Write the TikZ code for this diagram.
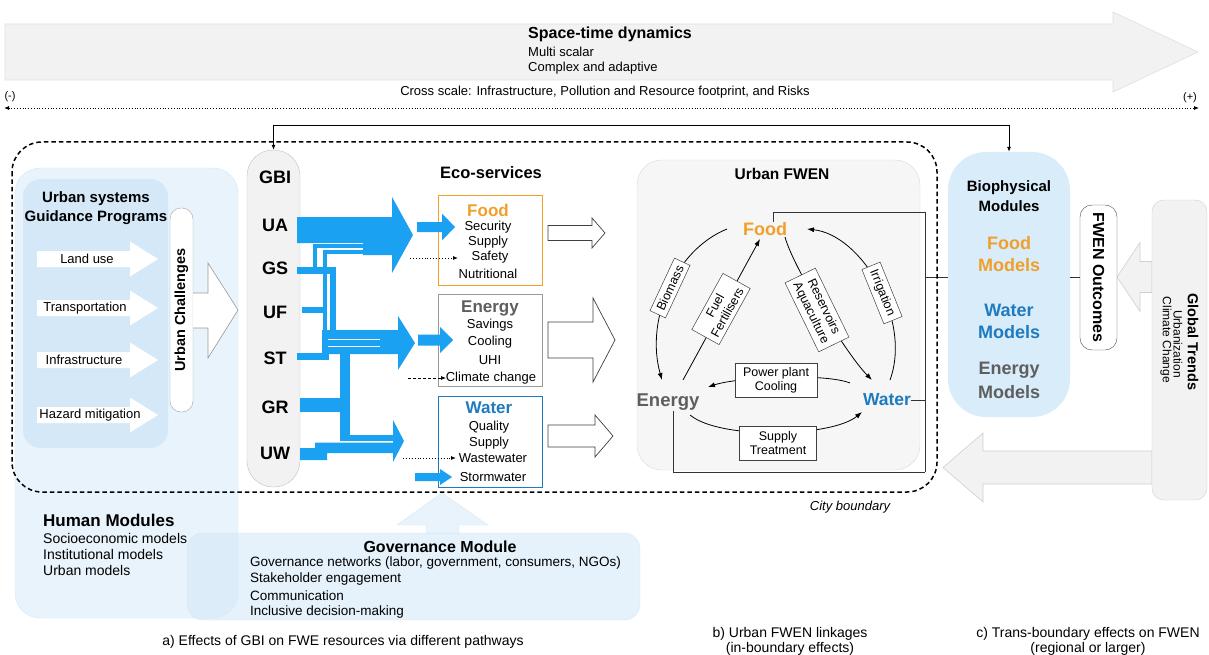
\documentclass[tikz,border=0pt]{standalone}
\usepackage{fontspec}
\setmainfont{Liberation Sans}
\usetikzlibrary{arrows.meta,calc}
\definecolor{blu}{HTML}{1BA1F2}
\definecolor{foodc}{HTML}{F0A02A}
\definecolor{watc}{HTML}{1F7BBF}
\definecolor{enc}{HTML}{5E5E5E}
\definecolor{lb1}{HTML}{E8F3FC}
\definecolor{lb2}{HTML}{D4E8F8}
\definecolor{lb3}{HTML}{D9ECFA}
\definecolor{gf}{HTML}{F2F2F2}
\definecolor{gd}{HTML}{D0D0D0}
\newcommand\fs[2]{\fontsize{#1}{#2}\selectfont}
% block arrow: x0 (tail), x1 (head base), x2 (tip), yc, body half height, head half height
\newcommand\barrow[6]{(#1,#4-#5) -- (#2,#4-#5) -- (#2,#4-#6) -- (#3,#4) -- (#2,#4+#6) -- (#2,#4+#5) -- (#1,#4+#5) -- cycle}
\begin{document}
\begin{tikzpicture}[x=1pt,y=-1pt,
  every node/.style={inner sep=0pt},
  t13/.style={font=\fs{13}{15}},
  t14/.style={font=\fs{14}{16}},
  flow/.style={-{Latex[length=7pt,width=5pt]}, line width=0.8pt},
  lbox/.style={draw=black!75, fill=white, line width=0.5pt, inner xsep=5pt, inner ysep=4pt, font=\fs{12.5}{14}, align=center},
  hollow/.style={draw=black!75, fill=white, line width=0.7pt},
  grayarr/.style={draw=gd, fill=gf, line width=0.6pt},
  wline/.style={line width=0.6pt, black!80},
  smalltip/.style={-{Latex[length=5pt,width=4pt]}},
  ]
\useasboundingbox (0,0) rectangle (1209,655);

% ---------- top ----------
\draw[grayarr, draw=gray!25] \barrow{5}{1113}{1198}{52}{28}{40};
\node[anchor=west, font=\bfseries\fs{16}{18}] (st1) at (528,34) {Space-time dynamics};
\node[anchor=west, t13] (st2) at (528,52) {Multi scalar};
\node[anchor=west, t13] (st3) at (528,68) {Complex and adaptive};
\node[t13] (cs) at (605,92) {Cross scale: Infrastructure, Pollution and Resource footprint, and Risks};
\node[font=\fs{11}{12}] (mn) at (10,97) {(-)};
\node[font=\fs{11}{12}] (pl) at (1190,98) {(+)};
\coordinate (dl) at (4,108);
\coordinate (dr) at (1199,108);
\draw[dotted, line width=0.8pt, {Latex[length=5pt,width=4pt]}-{Latex[length=5pt,width=4pt]}] (dl) -- (dr);

% ---------- human & governance modules ----------
\draw[fill=lb1, draw=lb2, rounded corners=25] (15,168) rectangle (238,618);
\draw[fill=lb1, draw=lb2] (426,534) -- (426,525) -- (397,525) -- (442,493) -- (488,525) -- (459,525) -- (459,534);
\draw[fill=lb2, fill opacity=0.6, draw=lb2, rounded corners=16] (187,533) rectangle (640,620);
\node[anchor=west, font=\bfseries\fs{17}{19}] (hm) at (43,520) {Human Modules};
\node[anchor=west, t14] (hm1) at (43,538) {Socioeconomic models};
\node[anchor=west, t14] (hm2) at (43,554) {Institutional models};
\node[anchor=west, t14] (hm3) at (43,570) {Urban models};
\node[font=\bfseries\fs{16}{18}] (gm) at (440,547) {Governance Module};
\node[anchor=west, font=\fs{13.5}{15}] (gm1) at (250,563) {Governance networks (labor, government, consumers, NGOs)};
\node[anchor=west, font=\fs{13.5}{15}] (gm2) at (250,579) {Stakeholder engagement};
\node[anchor=west, font=\fs{13.5}{15}] (gm3) at (250,596) {Communication};
\node[anchor=west, font=\fs{13.5}{15}] (gm4) at (250,612) {Inclusive decision-making};

% ---------- urban systems guidance ----------
\draw[fill=lb2, draw=none, rounded corners=18] (23,179) rectangle (168,448);
\node[font=\bfseries\fs{15}{19}, align=center] (usg) at (96,208) {Urban systems\\Guidance Programs};
\foreach \yy in {259,308,360,415} {\fill[white] \barrow{37}{130}{158}{\yy}{8}{17.5};}
\node[t13] (p1) at (87,259) {Land use};
\node[t13] (p2) at (85,308) {Transportation};
\node[t13] (p3) at (84,360) {Infrastructure};
\node[t13] (p4) at (90,415) {Hazard mitigation};
\node[draw=gray!70, fill=white, rounded corners=11, minimum width=23, minimum height=204] (uc) at (181.5,310) {};
\node[rotate=90, font=\bfseries\fs{14.5}{16}] (uct) at (uc) {Urban Challenges};
\draw[draw=gray!80, fill=white, line width=0.6pt] (193,293) -- (208,293) -- (208,263) -- (238,310) -- (208,358) -- (208,328) -- (193,328);

% ---------- GBI ----------
\node[draw=gray!50, fill=gf, rounded corners=26, minimum width=53, minimum height=337] (gbi) at (273.5,318.5) {};
\foreach \lab/\yy in {GBI/177,UA/225,GS/268,UF/312,ST/358,GR/407,UW/453}
  \node[font=\bfseries\fs{18}{20}] (g\lab) at (275,\yy) {\lab};

% ---------- blue flows ----------
\fill[blu] (297,217) -- (392,217) -- (392,197) -- (413,235) -- (392,273) -- (392,255) -- (363,255) -- (363,243) -- (297,243) -- cycle;
\draw[blu, line width=4pt] (315,272) -- (315,246) -- (363,246);
\draw[blu, line width=4pt] (325,335) -- (325,252) -- (363,252);
\fill[blu] (297,267) rectangle (336,274);
\fill[blu] (330,267) rectangle (336,332);
\fill[blu] (302,307) rectangle (327,313);
\fill[blu] (297,353) rectangle (329,360);
\fill[blu] (322,335) rectangle (329,360);
\fill[blu] (322,330) -- (398,330) -- (398,316) -- (415,343) -- (398,370) -- (398,354) -- (322,354) -- cycle;
\draw[white, line width=0.8pt] (328,339) -- (380,339);
\draw[white, line width=0.8pt] (328,346) -- (380,346);
\fill[blu] (300,398) rectangle (350,412);
\fill[blu] (340,352) rectangle (350,441);
\fill[blu] (340,435) rectangle (393,441);
\fill[blu] (300,460) -- (327,460) -- (327,453) -- (393,453) -- (393,442.5) -- (315,442.5) -- (315,448) -- (300,448) -- cycle;
\fill[blu] (393,420) -- (404,441) -- (393,462) -- cycle;

% ---------- eco-services ----------
\node[font=\bfseries\fs{16.5}{18}] (eco) at (491,173) {Eco-services};
\node[draw=foodc, line width=1pt, fill=white, minimum width=104, minimum height=90] (efood) at (490,240) {};
\node[draw=gray!80, line width=1pt, fill=white, minimum width=104, minimum height=92] (eener) at (490,340) {};
\node[draw=watc, line width=1pt, fill=white, minimum width=104, minimum height=91] (ewat) at (490,441.5) {};
\node[font=\bfseries\fs{17}{19}, text=foodc] (ef0) at (488,210) {Food};
\node[t13] (ef1) at (488,227) {Security};
\node[t13] (ef2) at (488,242) {Supply};
\node[t13] (ef3) at (490,257) {Safety};
\node[t13] (ef4) at (488,274) {Nutritional};
\node[font=\bfseries\fs{17}{19}, text=enc] (ee0) at (490,308) {Energy};
\node[t13] (ee1) at (490,325) {Savings};
\node[t13] (ee2) at (490,342) {Cooling};
\node[t13] (ee3) at (490,360) {UHI};
\node[t13] (ee4) at (491,378) {Climate change};
\node[font=\bfseries\fs{17}{19}, text=watc] (ew0) at (489,408) {Water};
\node[t13] (ew1) at (489,427) {Quality};
\node[t13] (ew2) at (489,443) {Supply};
\node[t13] (ew3) at (493,458) {Wastewater};
\node[t13] (ew4) at (493,477) {Stormwater};
\fill[blu] \barrow{417}{442}{455}{227}{5}{13.5};
\fill[blu] \barrow{418}{440}{453}{340}{5.5}{13};
\fill[blu] \barrow{415}{440}{452}{477}{4}{8};
\coordinate (d1a) at (410,258); \coordinate (d1b) at (458,258);
\coordinate (d2a) at (408,378); \coordinate (d2b) at (446,378);
\coordinate (d3a) at (403,458); \coordinate (d3b) at (456,458);
\draw[dotted, line width=0.9pt, smalltip] (d1a) -- (d1b);
\draw[dashed, dash pattern=on 3pt off 2pt, line width=0.7pt, smalltip] (d2a) -- (d2b);
\draw[dotted, line width=0.9pt, smalltip] (d3a) -- (d3b);
\draw[hollow] \barrow{548}{592}{605}{233}{7.5}{15};
\draw[hollow] \barrow{548}{593}{615}{340}{18}{42};
\draw[hollow] \barrow{548}{595}{613}{436}{11}{21};

% ---------- Urban FWEN ----------
\node[draw=gray!30, fill=gray!7, rounded corners=25, minimum width=283, minimum height=310] (fwen) at (778.5,315) {};
\node[font=\bfseries\fs{15.5}{18}] (fwt) at (782,174) {Urban FWEN};
\node[font=\bfseries\fs{18}{20}, text=foodc] (ffood) at (765,229) {Food};
\node[font=\bfseries\fs{18.5}{20}, text=enc] (fen) at (668,402) {Energy};
\node[font=\bfseries\fs{17.5}{20}, text=watc] (fwat) at (887,400) {Water};

\draw[flow] ([xshift=-38pt]ffood.center) .. controls +(-52,21) and +(-17,-60) .. ([xshift=-6pt,yshift=22pt]fen.center);
\draw[flow] ([xshift=15pt,yshift=22pt]fen.center) -- ([xshift=-5pt,yshift=-10pt]ffood.center);
\draw[flow] ([xshift=20pt,yshift=-8pt]ffood.center) .. controls +(8,30) and +(-25,-25) .. ([xshift=-15pt,yshift=20pt]fwat.center);
\draw[flow] ([xshift=3pt,yshift=20pt]fwat.center) .. controls +(22,-60) and +(55,6) .. ([xshift=42pt]ffood.center);
\draw[flow] ([xshift=-37pt,yshift=17pt]fwat.center) .. controls +(-25,-10) and +(30,-10) .. ([xshift=40pt,yshift=15pt]fen.center);
\draw[flow] ([xshift=22pt,yshift=-13pt]fen.center) .. controls +(30,25) and +(-30,25) .. ([xshift=-25pt,yshift=-12pt]fwat.center);
\node[lbox, rotate=65] (lbm) at (670,288) {Biomass};
\node[lbox, rotate=61] (lff) at (721,309) {Fuel\\Fertilisers};
\node[lbox, rotate=-64] (lra) at (817,310) {Reservoirs\\Aquaculture};
\node[lbox, rotate=-68] (lir) at (882,293) {Irrigation};
\node[lbox, minimum width=82, minimum height=34] (lpp) at (776,380) {Power plant\\Cooling};
\node[lbox, minimum width=77, minimum height=34] (lsu) at (778,443) {Supply\\Treatment};

% ---------- right side ----------
\node[fill=lb3, rounded corners=38, minimum width=122, minimum height=265] (bio) at (1009,284.5) {};
\node[font=\bfseries\fs{15}{17}] (bio1) at (1009,188) {Biophysical};
\node[font=\bfseries\fs{15}{17}] (bio2) at (1009,206) {Modules};
\node[font=\bfseries\fs{18}{20}, text=foodc] (bio3) at (1009,243) {Food};
\node[font=\bfseries\fs{18}{20}, text=foodc] (bio4) at (1009,265) {Models};
\node[font=\bfseries\fs{18}{20}, text=watc] (bio5) at (1009,310) {Water};
\node[font=\bfseries\fs{18}{20}, text=watc] (bio6) at (1009,332) {Models};
\node[font=\bfseries\fs{18}{20}, text=enc] (bio7) at (1009,370) {Energy};
\node[font=\bfseries\fs{18}{20}, text=enc] (bio8) at (1009,392) {Models};

\draw[grayarr] \barrow{1152}{1140}{1117}{277}{15.5}{34.5};
\draw[grayarr] \barrow{1152}{983}{943}{467.5}{16.5}{34.5};
\node[draw=black!70, fill=white, rounded corners=12, minimum width=37, minimum height=145] (fwo) at (1098.5,277.5) {};
\node[rotate=-90, font=\bfseries\fs{16}{18}] (fwot) at (fwo) {FWEN Outcomes};
\node[draw=gd, fill=gf, rounded corners=12, minimum width=55, minimum height=300] (glb) at (1179.5,350) {};
\node[rotate=-90, font=\bfseries\fs{14.5}{16}] (glb1) at (1193,342) {Global Trends};
\node[rotate=-90, font=\fs{12}{14}] (glb2) at (1178,344) {Urbanization};
\node[rotate=-90, font=\fs{12}{14}] (glb3) at (1166,340) {Climate Change};

% ---------- connectors ----------
\coordinate (j1) at (925,212);
\coordinate (j2) at (925,472);
\coordinate (jn) at (925,277);
\draw[wline] ([xshift=8pt]ffood.north) |- (j1);
\draw[wline] (j1) -- (j2);
\draw[wline] (fwat.east) -- (fwat.east -| j1);
\draw[wline] ([xshift=5pt]fen.south) |- (j2);
\draw[wline] (jn) -- (jn -| bio.west);
\draw[wline] (fwo.west) -- (fwo.west -| bio.east);
\coordinate (ctl) at (273.5,125);
\coordinate (ctr) at (1009,125);
\draw[line width=0.8pt] (ctl) -- (ctr);
\draw[line width=0.8pt, smalltip] (ctl) -- (gbi.north);
\draw[line width=0.8pt, smalltip] (ctr) -- (bio.north);

% ---------- city boundary ----------
\draw[line width=1.5pt, dash pattern=on 4.5pt off 3pt, rounded corners=30] (12,142) rectangle (937,492);
\node[font=\itshape\fs{13}{15}] (cb) at (850,507) {City boundary};

% ---------- captions ----------
\node[t14] (capa) at (343,642) {a) Effects of GBI on FWE resources via different pathways};
\node[t14] (capb1) at (790,634) {b) Urban FWEN linkages};
\node[t14] (capb2) at (790,649) {(in-boundary effects)};
\node[t14] (capc1) at (1088,634) {c) Trans-boundary effects on FWEN};
\node[t14] (capc2) at (1088,649) {(regional or larger)};
\end{tikzpicture}
\end{document}
